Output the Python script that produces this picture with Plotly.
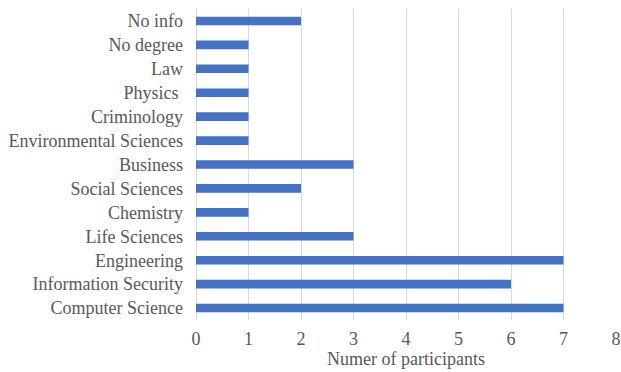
import plotly.graph_objects as go

categories = ["Computer Science", "Information Security", "Engineering", "Life Sciences",
              "Chemistry", "Social Sciences", "Business", "Environmental Sciences",
              "Criminology", "Physics\u00a0", "Law", "No degree", "No info"]
values = [7, 6, 7, 3, 1, 2, 3, 1, 1, 1, 1, 1, 2]
x_ticks = [0, 1, 2, 3, 4, 5, 6, 7, 8]

font = dict(family="'Liberation Serif', 'Times New Roman', serif", size=18, color="#595959")

fig = go.Figure(go.Bar(
    x=values, y=categories, orientation="h",
    marker=dict(color="#4472C4", line=dict(width=0)),
))

fig.update_layout(
    width=621, height=372,
    margin=dict(l=196, r=5, t=9, b=52),
    paper_bgcolor="white", plot_bgcolor="white",
    bargap=0.64,
    font=font,
    showlegend=False,
    xaxis=dict(
        range=[0, 8], tickvals=x_ticks, showgrid=True, gridcolor="#d9d9d9", gridwidth=1,
        zeroline=True, zerolinecolor="#d9d9d9", zerolinewidth=1,
        showline=False, ticks="", automargin=False, ticklabelstandoff=6,
        title=dict(text="Numer of participants", font=font, standoff=0),
        tickfont=font,
    ),
    yaxis=dict(
        showgrid=False, zeroline=False, showline=False, ticks="", automargin=False,
        tickfont=font, ticklabelstandoff=12,
    ),
)

fig.write_html("out.html")
